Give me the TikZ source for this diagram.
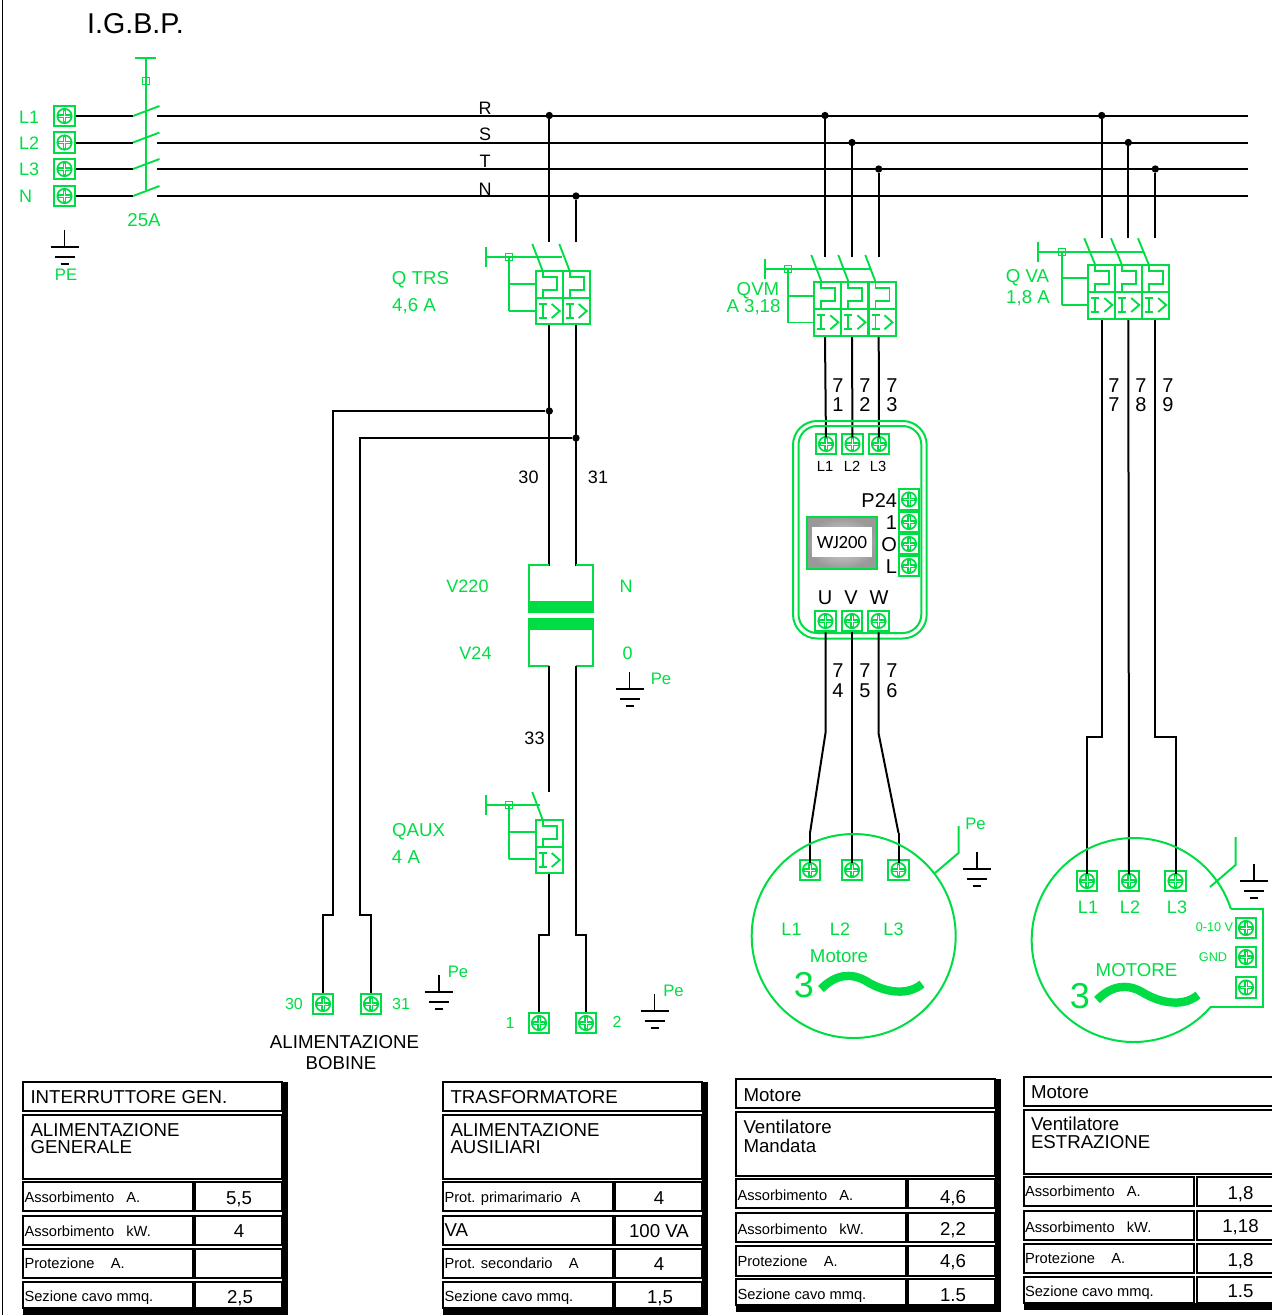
\documentclass[tikz,border=0pt]{standalone}
\usepackage{fontspec}
\setmainfont{Liberation Sans}
\newfontfamily\wjfont{Carlito}
\usetikzlibrary{calc}
\definecolor{gr}{RGB}{0,221,68}
\newcommand{\fs}[1]{\fontsize{#1}{#1}\selectfont}
\newcounter{lblc}
% anchor, position, text, size(pt), colour
\newcommand{\Lbl}[5]{\stepcounter{lblc}\node[lbl,anchor=#1,font=\fs{#4},text=#5,text height=#4*0.72pt] (lbl\arabic{lblc}) at #2 {#3};}
\newcommand{\Gn}[3]{\Lbl{center}{#1}{#2}{#3}{gr}}
\newcommand{\Bk}[3]{\Lbl{center}{#1}{#2}{#3}{black}}
\newcommand{\Gnd}[2]{\begin{scope}[shift={(#1,#2)}]
 \draw[gndl] (0,0)--(0,17) (-14,17)--(14,17) (-10,27)--(10,27) (-4,34)--(4,34);\end{scope}}
\newcommand{\Cell}[3]{\begin{scope}[shift={(#1,#2)}]
 \draw[gth] (0,0) rectangle (27,#3);
 \draw[gth] (0,27)--(27,27);
 \draw[gmd] (7,0)--(7,6)--(21,6)--(21,19)--(7,19)--(7,27);
 \draw[gmd] (3,33)--(11,33) (7,33)--(7,47) (3,47)--(11,47);
 \draw[gmd] (16,33)--(24,40)--(16,47);\end{scope}}
% bar x, y, end x, square x, branch1 y, branch2 y, cell x
\newcommand{\Act}[7]{\draw[gmd] (#1,#2-10)--(#1,#2+10) (#1,#2)--(#3,#2) (#4,#2)--(#4,#6) (#4,#5)--(#7,#5) (#4,#6)--(#7,#6);
 \draw[gmd,line width=1pt] (#4-3.5,#2-3.5) rectangle (#4+3.5,#2+3.5);}
\newcommand{\Tbl}[2]{\begin{scope}[shift={(#1,#2)}]
 \fill[black] (259,0) rectangle (265,233);
 \fill[black] (0,226) rectangle (265,233);
 \draw[cellb] (0,0) rectangle (259,29);
 \draw[cellb] (0,33) rectangle (259,97);
 \draw[cellb] (0,100) rectangle (170,129) (172.5,100) rectangle (259,129);
 \draw[cellb] (0,134) rectangle (170,163) (172.5,134) rectangle (259,163);
 \draw[cellb] (0,167) rectangle (170,196.5) (172.5,167) rectangle (259,196.5);
 \draw[cellb] (0,200) rectangle (170,226) (172.5,200) rectangle (259,226);
 \end{scope}}
\newcommand{\Tilde}[2]{\begin{scope}[shift={(#1,#2)}]
 \draw[gr,line width=6.3pt] (821,989) .. controls (835,975) and (850,972) .. (866,981) .. controls (880,990) and (905,998) .. (922,984);\end{scope}}
\tikzset{
 x=0.75pt,y=-0.75pt,
 lbl/.style={inner sep=0pt,outer sep=0pt,text depth=0pt},
 wire/.style={black,line width=1.5pt},
 twire/.style={black,line width=1.5pt,shorten >=5pt},
 gmd/.style={gr,line width=1.4pt},
 gth/.style={gr,line width=1.5pt},
 gndl/.style={black,line width=1.2pt},
 cellb/.style={black,line width=1.5pt,fill=white},
 junc/.style={circle,fill=black,inner sep=0pt,minimum size=5.5pt},
 term/.style={rectangle,draw=gr,line width=1.5pt,minimum size=15.5pt,inner sep=0pt,
   path picture={
     \draw[gr,line width=1.3pt] (path picture bounding box.center) circle (5.4pt);
     \draw[gr,line width=2.6pt] ($(path picture bounding box.center)+(-5pt,0)$)--($(path picture bounding box.center)+(5pt,0)$);
     \draw[gr,line width=2.6pt] ($(path picture bounding box.center)+(0,-5pt)$)--($(path picture bounding box.center)+(0,5pt)$);
     \draw[white,line width=.45pt] ($(path picture bounding box.center)+(-4pt,0)$)--($(path picture bounding box.center)+(4pt,0)$);
     \draw[white,line width=.45pt] ($(path picture bounding box.center)+(0,-4pt)$)--($(path picture bounding box.center)+(0,4pt)$);
   }},
}
\begin{document}
\begin{tikzpicture}
\clip (0,0) rectangle (1272,1315);
\fill[white] (0,0) rectangle (1272,1315);
\draw[black,line width=1.3pt] (2.5,0)--(2.5,1315);

% ---------- terminals
\node[term] (tL1) at (64.5,116) {};
\node[term] (tL2) at (64.5,142.5) {};
\node[term] (tL3) at (64.5,169) {};
\node[term] (tN) at (64.5,196) {};
\node[term] (iL1) at (826,444) {};
\node[term] (iL2) at (852.5,444) {};
\node[term] (iL3) at (879,444) {};
\node[term] (iU) at (825.5,621) {};
\node[term] (iV) at (852,621) {};
\node[term] (iW) at (878.5,621) {};
\node[term] (iP) at (909,499.5) {};
\node[term] (i1) at (909,522) {};
\node[term] (iO) at (909,544) {};
\node[term] (iLL) at (909,566) {};
\node[term] (m1a) at (810,870) {};
\node[term] (m1b) at (852,870) {};
\node[term] (m1c) at (898.5,870) {};
\node[term] (m2a) at (1087,881) {};
\node[term] (m2b) at (1129,881) {};
\node[term] (m2c) at (1175.5,881) {};
\node[term] (m2x) at (1246,928) {};
\node[term] (m2y) at (1246,957) {};
\node[term] (m2z) at (1246,987.5) {};
\node[term] (b30) at (323,1004) {};
\node[term] (b31) at (371,1004) {};
\node[term] (a1) at (539,1023) {};
\node[term] (a2) at (586,1023) {};

% ---------- main switch
\coordinate (c1) at (133,116); \coordinate (c2) at (133,142.5); \coordinate (c3) at (133,169); \coordinate (c4) at (133,196);
\draw[wire] (tL1)--(c1); \draw[wire] (tL2)--(c2); \draw[wire] (tL3)--(c3); \draw[wire] (tN)--(c4);
\draw[gmd] (145.7,58)--(145.7,190) (135,58)--(156,58);
\draw[gmd,line width=1pt] (142.2,77.8) rectangle (149.2,84.8);
\draw[gmd] (c1)--++(26.5,-10); \draw[gmd] (c2)--++(26.5,-10); \draw[gmd] (c3)--++(26.5,-10); \draw[gmd] (c4)--++(26.5,-10);

% ---------- bus
\coordinate (busRl) at (157,115.5); \coordinate (busRr) at (1248,115.5);
\coordinate (busSl) at (157,142.5); \coordinate (busSr) at (1248,142.5);
\coordinate (busTl) at (157,169); \coordinate (busTr) at (1248,169);
\coordinate (busNl) at (157,196); \coordinate (busNr) at (1248,196);
\draw[wire] (busRl)--(busRr); \draw[wire] (busSl)--(busSr); \draw[wire] (busTl)--(busTr); \draw[wire] (busNl)--(busNr);
\node[junc] (j1) at (549.3,115.5) {};
\node[junc] (j2) at (576,196) {};
\node[junc] (j3) at (825,115.5) {};
\node[junc] (j4) at (852,142.5) {};
\node[junc] (j5) at (878.7,169) {};
\node[junc] (j6) at (1101.7,115.5) {};
\node[junc] (j7) at (1128.3,142.5) {};
\node[junc] (j8) at (1155.3,169) {};

% ---------- Q TRS
\coordinate (tr1) at (549.3,242); \coordinate (tr2) at (576,242);
\coordinate (tr1b) at (549.3,324); \coordinate (tr2b) at (576,324);
\coordinate (tf1) at (549.3,566); \coordinate (tf2) at (576,566);
\draw[wire] (j1)--(tr1); \draw[wire] (j2)--(tr2);
\draw[wire] (tr1b)--(tf1); \draw[wire] (tr2b)--(tf2);
\Cell{535.7}{271}{53}\Cell{562.7}{271}{53}
\Act{486}{257}{562}{509}{284}{311}{535.7}
\draw[gmd] (532.3,244)--(542.7,271) (559.3,244)--(569.7,271);
% junctions to bobine terminals
\node[junc] (j9) at (549.3,411) {};
\node[junc] (j10) at (576,438) {};
\coordinate (k1) at (333,411); \coordinate (k2) at (333,915); \coordinate (k3) at (323,915);
\coordinate (k4) at (360,438); \coordinate (k5) at (360,915); \coordinate (k6) at (371,915);
\draw[wire,line width=1.3pt] (j9)--(k1)--(k2)--(k3)--(b30);
\draw[wire,line width=1.3pt] (j10)--(k4)--(k5)--(k6)--(b31);

% ---------- transformer
\draw[gth] (549.3,565)--(529,565)--(529,602);
\draw[gth] (576,565)--(593,565)--(593,602);
\fill[gr] (528,601) rectangle (594,613);
\fill[gr] (528,618) rectangle (594,630);
\draw[gth] (529,630)--(529,666)--(549.3,666);
\draw[gth] (593,630)--(593,666)--(576,666);
\coordinate (tf3) at (549.3,666); \coordinate (tf4) at (576,666);

% ---------- QAUX
\coordinate (qa1) at (549.3,792); \coordinate (qa2) at (549.3,873);
\coordinate (qa3) at (549.3,935); \coordinate (qa4) at (539,935);
\coordinate (qa5) at (576,935); \coordinate (qa6) at (586,935);
\draw[wire] (tf3)--(qa1);
\draw[wire] (qa2)--(qa3)--(qa4)--(a1);
\draw[wire] (tf4)--(qa5)--(qa6)--(a2);
\Cell{535.7}{820}{53}
\Act{486}{805}{540}{509}{832}{859}{535.7}
\draw[gmd] (532.3,792)--(542.7,820);

% ---------- QVM
\coordinate (v1) at (825,256.7); \coordinate (v2) at (852,256.7); \coordinate (v3) at (878.7,256.7);
\coordinate (v1b) at (825,336); \coordinate (v2b) at (852,336); \coordinate (v3b) at (878.7,336);
\draw[wire] (j3)--(v1); \draw[wire] (j4)--(v2); \draw[wire] (j5)--(v3);
\draw[twire] (v1b)--(iL1.center); \draw[twire] (v2b)--(iL2.center); \draw[twire] (v3b)--(iL3.center);
\Cell{814.3}{282.3}{53.5}\Cell{841.4}{282.3}{53.5}\Cell{868.5}{282.3}{53.5}
\Act{764.7}{268.7}{870}{788}{295.7}{322.5}{814.3}
\draw[gmd] (811.3,255)--(821.7,282.3) (838.3,255)--(848.7,282.3) (865.3,255)--(875.7,282.3);

% ---------- Q VA
\coordinate (w1) at (1101.7,238); \coordinate (w2) at (1128.3,238); \coordinate (w3) at (1155.3,238);
\coordinate (w1b) at (1101.7,319); \coordinate (w2b) at (1128.3,319); \coordinate (w3b) at (1155.3,319);
\coordinate (w1c) at (1101.7,737); \coordinate (w1d) at (1087,737);
\coordinate (w3c) at (1155.3,737); \coordinate (w3d) at (1175.5,737);
\draw[wire] (j6)--(w1); \draw[wire] (j7)--(w2); \draw[wire] (j8)--(w3);
\draw[twire] (w1b)--(w1c)--(w1d)--(m2a.center);
\draw[twire] (w2b)--(m2b.center);
\draw[twire] (w3b)--(w3c)--(w3d)--(m2c.center);
\Cell{1088.3}{265}{54}\Cell{1115.2}{265}{54}\Cell{1142.1}{265}{54}
\Act{1038}{251.7}{1143}{1061.7}{278.3}{305}{1088.3}
\draw[gmd] (1084.3,238.3)--(1095.3,265) (1111,238.3)--(1122,265) (1138,238.3)--(1149,265);

% ---------- inverter
\draw[gth] (793,421) [rounded corners=18pt] rectangle (926.7,638.5);
\draw[gth] (798.5,426) [rounded corners=14pt] rectangle (921.3,633);
\shade[inner color=gray!25,outer color=gray!80] (807,517) rectangle (877,569);
\draw[gth] (807,517) rectangle (877,569);
\node[fill=white,minimum width=45pt,minimum height=22.5pt,inner sep=0pt,font=\wjfont\fs{14}] (disp) at (842,542) {WJ200};
\coordinate (u1) at (825.5,733); \coordinate (u2) at (810,833);
\coordinate (u3) at (878.5,733); \coordinate (u4) at (898.5,833);
\draw[wire] (iU.south)--(u1)--(u2); \draw[twire] (u2)--(m1a.center);
\draw[twire] (iV.south)--(m1b.center);
\draw[wire] (iW.south)--(u3)--(u4); \draw[twire] (u4)--(m1c.center);

% ---------- motor 1
\draw[gth] (853.7,936) circle [radius=102];
\draw[gth] (935,873)--(958.5,853)--(958.5,826);
\Gnd{977}{852}
\Tilde{0}{0}
% ---------- motor 2
\draw[gth] plot[domain=-17.7:-319,samples=160] ({1133.7+102*cos(\x)},{940+102*sin(\x)});
\draw[gth] (1230.7,909)--(1263,909)--(1263,1007)--(1210,1007);
\draw[gth] (1210,887)--(1235.5,865)--(1235.5,837);
\Gnd{1254}{864}
\Tilde{276}{11}

% ---------- grounds
\Gnd{64.5}{230}
\Gnd{629.5}{672}
\Gnd{439}{975}
\Gnd{654.5}{994}

% ---------- tables
\Tbl{22.7}{1081.5}
\Tbl{442.7}{1081.5}
\Tbl{735.7}{1079}
\Tbl{1024}{1076.7}

% ---------- labels
\Lbl{center}{(135.5,23)}{I.G.B.P.}{21.5}{black}
\Lbl{west}{(19,117)}{L1}{13.5}{gr}
\Lbl{west}{(19,143)}{L2}{13.5}{gr}
\Lbl{west}{(19,169)}{L3}{13.5}{gr}
\Lbl{west}{(19,196)}{N}{13.5}{gr}
\Gn{(144,220)}{25A}{14}
\Gn{(66,274)}{PE}{12.5}
\Bk{(485,108)}{R}{13.5}
\Bk{(485,134)}{S}{13.5}
\Bk{(485,161)}{T}{13.5}
\Bk{(485,189)}{N}{13.5}
\Gn{(420.5,278)}{Q TRS}{14}
\Gn{(414,305)}{4,6 A}{14}
\Gn{(758,289)}{QVM}{14}
\Gn{(753.5,306)}{A 3,18}{14}
\Gn{(1027.5,276)}{Q VA}{14}
\Gn{(1028,297)}{1,8 A}{14}
\Bk{(528.5,477)}{30}{13.5}
\Bk{(598,477)}{31}{13.5}
\Bk{(534.5,738)}{33}{13.5}
\Gn{(467.5,586)}{V220}{13.5}
\Gn{(626,586)}{N}{13.5}
\Gn{(475.5,653)}{V24}{13.5}
\Gn{(627.5,653)}{0}{13.5}
\Gn{(661,678)}{Pe}{12.5}
\Gn{(418.5,830)}{QAUX}{14}
\Gn{(406,857)}{4 A}{14}
\Gn{(458,971)}{Pe}{12.5}
\Gn{(673.5,990)}{Pe}{12.5}
\Gn{(294,1004)}{30}{12}
\Gn{(401,1004)}{31}{12}
\Gn{(510,1023)}{1}{12}
\Gn{(617,1022)}{2}{12}
\Bk{(344.5,1042)}{ALIMENTAZIONE}{14}
\Bk{(341,1063)}{BOBINE}{14}
% wire numbers
\Bk{(838,385)}{7}{15}\Bk{(838,404)}{1}{15}
\Bk{(865,385)}{7}{15}\Bk{(865,404)}{2}{15}
\Bk{(892,385)}{7}{15}\Bk{(892,404)}{3}{15}
\Bk{(1114,385)}{7}{15}\Bk{(1114,404)}{7}{15}
\Bk{(1141,385)}{7}{15}\Bk{(1141,404)}{8}{15}
\Bk{(1168,385)}{7}{15}\Bk{(1168,404)}{9}{15}
\Bk{(838,670)}{7}{15}\Bk{(838,690)}{4}{15}
\Bk{(865,670)}{7}{15}\Bk{(865,690)}{5}{15}
\Bk{(892,670)}{7}{15}\Bk{(892,690)}{6}{15}
% inverter labels
\Bk{(825,466.5)}{L1}{11}
\Bk{(852,466.5)}{L2}{11}
\Bk{(878,466.5)}{L3}{11}
\Lbl{east}{(897,500.5)}{P24}{15}{black}
\Lbl{east}{(897,522.5)}{1}{15}{black}
\Lbl{east}{(897,544.5)}{O}{15}{black}
\Lbl{east}{(897,566.5)}{L}{15}{black}
\Bk{(825,597)}{U}{15}
\Bk{(851,597)}{V}{15}
\Bk{(879,597)}{W}{15}
% motor 1
\Gn{(975.5,823)}{Pe}{12.5}
\Gn{(791.5,929)}{L1}{13.5}
\Gn{(840,929)}{L2}{13.5}
\Gn{(893.5,929)}{L3}{13.5}
\Gn{(839,956)}{Motore}{14}
\Gn{(804,985)}{3}{27}
% motor 2
\Gn{(1088,907)}{L1}{13.5}
\Gn{(1130,907)}{L2}{13.5}
\Gn{(1177,907)}{L3}{13.5}
\Gn{(1214.5,927)}{0-10 V}{9.5}
\Gn{(1213,957)}{GND}{9.5}
\Gn{(1136.5,970)}{MOTORE}{14}
\Gn{(1080,996)}{3}{27}
% table 1
\Lbl{west}{(30.5,1096.5)}{INTERRUTTORE GEN.}{14}{black}
\Lbl{west}{(30.5,1130)}{ALIMENTAZIONE}{14}{black}
\Lbl{west}{(30.5,1147)}{GENERALE}{14}{black}
\Lbl{west}{(24.5,1197)}{Assorbimento\ \ \ A.}{11}{black}
\Lbl{west}{(24.5,1231)}{Assorbimento\ \ \ kW.}{11}{black}
\Lbl{west}{(24.5,1263)}{Protezione\ \ \ \ A.}{11}{black}
\Lbl{west}{(24.5,1296)}{Sezione cavo mmq.}{11}{black}
\Bk{(239,1198)}{5,5}{14}
\Bk{(239,1231)}{4}{14}
\Bk{(240,1297)}{2,5}{14}
% table 2
\Lbl{west}{(450.5,1096.5)}{TRASFORMATORE}{14}{black}
\Lbl{west}{(450.5,1130)}{ALIMENTAZIONE}{14}{black}
\Lbl{west}{(450.5,1147)}{AUSILIARI}{14}{black}
\Lbl{west}{(444.5,1197)}{Prot. primarimario\ \ A}{11}{black}
\Lbl{west}{(444.5,1230)}{VA}{14}{black}
\Lbl{west}{(444.5,1263)}{Prot. secondario\ \ \ \ A}{11}{black}
\Lbl{west}{(444.5,1296)}{Sezione cavo mmq.}{11}{black}
\Bk{(659,1198)}{4}{14}
\Bk{(659,1231)}{100 VA}{14}
\Bk{(659,1264)}{4}{14}
\Bk{(660,1297)}{1,5}{14}
% table 3
\Lbl{west}{(743.5,1095)}{Motore}{14}{black}
\Lbl{west}{(743.5,1127)}{Ventilatore}{14}{black}
\Lbl{west}{(743.5,1146)}{Mandata}{14}{black}
\Lbl{west}{(737.5,1195)}{Assorbimento\ \ \ A.}{11}{black}
\Lbl{west}{(737.5,1229)}{Assorbimento\ \ \ kW.}{11}{black}
\Lbl{west}{(737.5,1261)}{Protezione\ \ \ \ A.}{11}{black}
\Lbl{west}{(737.5,1294)}{Sezione cavo mmq.}{11}{black}
\Bk{(953,1197)}{4,6}{14}
\Bk{(953,1229)}{2,2}{14}
\Bk{(953,1261)}{4,6}{14}
\Bk{(953,1295)}{1.5}{14}
% table 4
\Lbl{west}{(1031,1092)}{Motore}{14}{black}
\Lbl{west}{(1031,1124)}{Ventilatore}{14}{black}
\Lbl{west}{(1031,1142)}{ESTRAZIONE}{14}{black}
\Lbl{west}{(1025,1191)}{Assorbimento\ \ \ A.}{11}{black}
\Lbl{west}{(1025,1227)}{Assorbimento\ \ \ kW.}{11}{black}
\Lbl{west}{(1025,1258)}{Protezione\ \ \ \ A.}{11}{black}
\Lbl{west}{(1025,1291)}{Sezione cavo mmq.}{11}{black}
\Bk{(1240.5,1193)}{1,8}{14}
\Bk{(1240.5,1226)}{1,18}{14}
\Bk{(1240.5,1260)}{1,8}{14}
\Bk{(1240.5,1291)}{1.5}{14}
\end{tikzpicture}
\end{document}
